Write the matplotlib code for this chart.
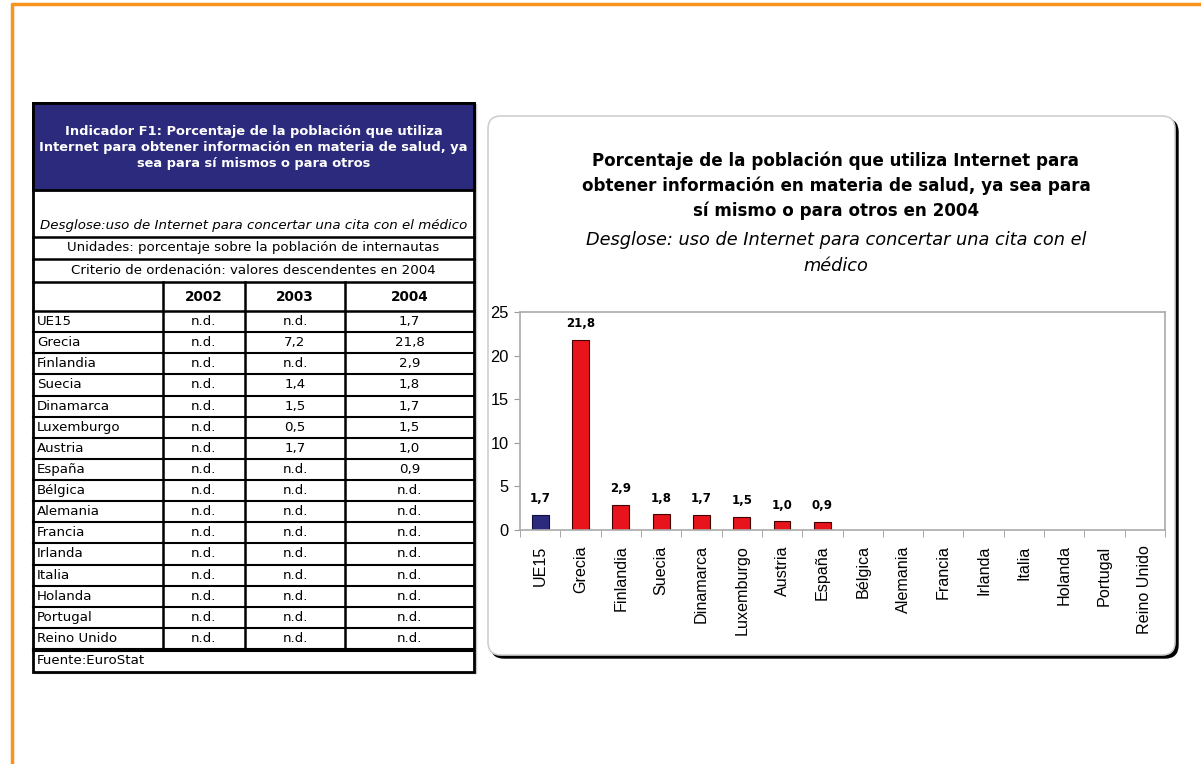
import numpy as np
import matplotlib.pyplot as plt
from matplotlib.patches import Rectangle, FancyBboxPatch

paises = ["UE15", "Grecia", "Finlandia", "Suecia", "Dinamarca", "Luxemburgo",
          "Austria", "España", "Bélgica", "Alemania", "Francia", "Irlanda",
          "Italia", "Holanda", "Portugal", "Reino Unido"]
anios = ["2002", "2003", "2004"]
v2002 = ["n.d."] * 16
v2003 = ["n.d.", "7,2", "n.d.", "1,4", "1,5", "0,5", "1,7", "n.d.",
         "n.d.", "n.d.", "n.d.", "n.d.", "n.d.", "n.d.", "n.d.", "n.d."]
v2004 = ["1,7", "21,8", "2,9", "1,8", "1,7", "1,5", "1,0", "0,9",
         "n.d.", "n.d.", "n.d.", "n.d.", "n.d.", "n.d.", "n.d.", "n.d."]

titulo_tabla = ("Indicador F1: Porcentaje de la población que utiliza\n"
                "Internet para obtener información en materia de salud, ya\n"
                "sea para sí mismos o para otros")
desglose_tabla = "Desglose:uso de Internet para concertar una cita con el médico"
unidades = "Unidades: porcentaje sobre la población de internautas"
criterio = "Criterio de ordenación: valores descendentes en 2004"
fuente = "Fuente:EuroStat"

titulo_graf = ("Porcentaje de la población que utiliza Internet para\n"
               "obtener información en materia de salud, ya sea para\n"
               "sí mismo o para otros en 2004")
subtitulo_graf = "Desglose: uso de Internet para concertar una cita con el\nmédico"

AZUL = "#2c2a7c"
ROJO = "#e8141c"
NARANJA = "#f7931e"

W, H = 1201, 764
fig = plt.figure(figsize=(W / 100, H / 100), dpi=100)
fig.patch.set_facecolor("white")

# capa de fondo en coordenadas de pixel
bg = fig.add_axes([0, 0, 1, 1])
bg.set_xlim(0, W)
bg.set_ylim(H, 0)
bg.axis("off")

# marco naranja
bg.plot([12, 12, W], [H, 4, 4], color=NARANJA, lw=2.5, solid_capstyle="butt")

# ---------------- tabla ----------------
tx0, tx1 = 33, 474
fs_tabla = 9.6
bg.add_patch(Rectangle((tx0 + 2, 104), tx1 - tx0, 672 - 103, color="#c8c8c8", zorder=0))
bg.add_patch(Rectangle((tx0, 103), tx1 - tx0, 672 - 103, facecolor="white",
                       edgecolor="black", lw=2, zorder=1))
bg.add_patch(Rectangle((tx0, 103), tx1 - tx0, 190 - 103, facecolor=AZUL,
                       edgecolor="black", lw=2, zorder=2))
bg.text((tx0 + tx1) / 2, 148, titulo_tabla, color="white", fontsize=9.4,
        fontweight="bold", ha="center", va="center", linespacing=1.3, zorder=3)

bg.text((tx0 + tx1) / 2, 226, desglose_tabla, fontsize=fs_tabla, style="italic",
        ha="center", va="center", zorder=3)
bg.text((tx0 + tx1) / 2, 248, unidades, fontsize=fs_tabla, ha="center", va="center", zorder=3)
bg.text((tx0 + tx1) / 2, 270, criterio, fontsize=fs_tabla, ha="center", va="center", zorder=3)

for y in [237, 259, 282, 311]:
    bg.plot([tx0, tx1], [y, y], color="black", lw=1.8, zorder=3)

col_x = [163, 245, 345]
fila_h = (649 - 311) / len(paises)
y_fin = 649
for x in col_x:
    bg.plot([x, x], [282, y_fin], color="black", lw=1.8, zorder=3)

centros = [(163 + 245) / 2, (245 + 345) / 2, (345 + 474) / 2]
for cx, a in zip(centros, anios):
    bg.text(cx, 297, a, fontsize=9.8, fontweight="bold", ha="center", va="center", zorder=3)

for i, p in enumerate(paises):
    y0 = 311 + i * fila_h
    bg.plot([tx0, tx1], [y0 + fila_h, y0 + fila_h], color="black", lw=1.5, zorder=3)
    yc = y0 + fila_h / 2
    bg.text(37, yc, p, fontsize=fs_tabla, ha="left", va="center", zorder=3)
    for cx, col in zip(centros, [v2002, v2003, v2004]):
        bg.text(cx, yc, col[i], fontsize=fs_tabla, ha="center", va="center", zorder=3)

bg.plot([tx0, tx1], [y_fin + 1.5, y_fin + 1.5], color="black", lw=1.5, zorder=3)
bg.text(37, 661, fuente, fontsize=fs_tabla, ha="left", va="center", zorder=3)

# ---------------- recuadro del grafico ----------------
bx0, by0, bx1, by1 = 488, 116, 1175, 655
bg.add_patch(FancyBboxPatch((bx0 + 3, by0 + 3), bx1 - bx0, by1 - by0,
                            boxstyle="round,pad=0,rounding_size=13",
                            facecolor="black", edgecolor="black", lw=1, zorder=1))
bg.add_patch(FancyBboxPatch((bx0, by0), bx1 - bx0, by1 - by0,
                            boxstyle="round,pad=0,rounding_size=13",
                            facecolor="white", edgecolor="#cfcfcf", lw=1.2, zorder=2))

cx_graf = 836
bg.text(cx_graf, 186, titulo_graf, fontsize=12.1, fontweight="bold",
        ha="center", va="center", linespacing=1.45, zorder=3)
bg.text(cx_graf, 253, subtitulo_graf, fontsize=12.8, style="italic",
        ha="center", va="center", linespacing=1.55, zorder=3)

# ---------------- barras ----------------
valores = [float(v.replace(",", ".")) if v != "n.d." else np.nan for v in v2004]
colores = [AZUL] + [ROJO] * (len(paises) - 1)

ax = fig.add_axes([520 / W, (H - 530) / H, 645 / W, 218 / H])
ax.set_zorder(5)
ax.patch.set_alpha(0)
x = np.arange(len(paises))
for xi, v, c in zip(x, valores, colores):
    if np.isnan(v):
        continue
    ax.bar(xi, v, width=0.42, color=c, edgecolor="#400000" if c == ROJO else "#101040", lw=0.8)
    ax.annotate(f"{v:.1f}".replace(".", ","), (xi, v), xytext=(0, 7),
                textcoords="offset points", ha="center", va="bottom",
                fontsize=8.5, fontweight="bold", family=["Liberation Sans Narrow", "DejaVu Sans"])

ax.set_xlim(-0.5, len(paises) - 0.5)
ax.set_ylim(0, 25)
ax.set_yticks([0, 5, 10, 15, 20, 25])
ax.set_xticks(x)
ax.set_xticklabels(paises, rotation=90, fontsize=11.6, family="Liberation Sans")
ax.set_xticks(np.arange(-0.5, len(paises)), minor=True)
ax.tick_params(axis="x", which="major", length=0, pad=11)
ax.tick_params(axis="x", which="minor", length=5, color="#999999", direction="out")
ax.tick_params(axis="y", labelsize=11.8, length=4, color="#999999", pad=4)
for lab in ax.get_yticklabels():
    lab.set_family("Liberation Sans")
for s in ax.spines.values():
    s.set_color("#aaaaaa")
    s.set_linewidth(1.2)

fig.savefig("out.png", dpi=100)
